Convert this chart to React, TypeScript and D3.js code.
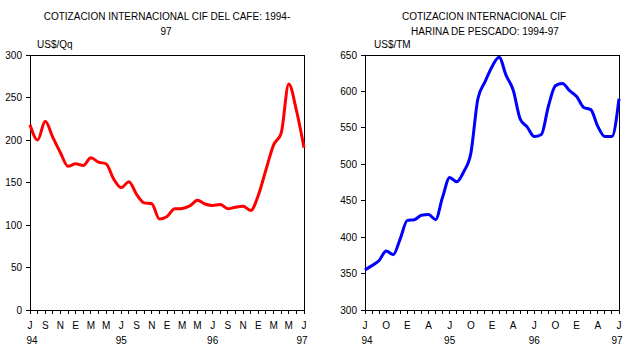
import React from "react";
import * as d3 from "d3";

// Months from Jul-94 to Jul-97 (index 0..36)
const cafeValues = [218, 200, 222, 203, 185, 169, 172, 170, 179, 174, 172, 154, 144, 151, 136, 126, 125, 107, 110, 119, 119.5, 122.5, 129, 124.7, 123, 124, 119, 121, 122, 117, 135, 165, 194, 208, 266, 235, 191];
const harinaValues = [355, 361, 368, 381, 376, 398, 423, 424, 430, 431, 424, 455, 482, 476, 490, 515, 590, 613, 634, 647, 622, 602, 562, 551, 538, 541, 580, 608, 611, 601, 593, 578, 575, 552, 538, 538, 590];

const cafeMonthLabels = ["J", "S", "N", "E", "M", "M", "J", "S", "N", "E", "M", "M", "J", "S", "N", "E", "M", "M", "J"];
const harinaMonthLabels = ["J", "O", "E", "A", "J", "O", "E", "A", "J", "O", "E", "A", "J"];
const yearLabels = ["94", "95", "96", "97"];
const cafeYTicks = [0, 50, 100, 150, 200, 250, 300];
const harinaYTicks = [300, 350, 400, 450, 500, 550, 600, 650];

const FONT = "'Liberation Sans', Arial, sans-serif";

type PanelProps = {
  x0: number; x1: number; y0: number; y1: number;
  values: number[]; domain: [number, number]; yTicks: number[];
  monthLabels: string[]; step: number; color: string;
  titles: { text: string; x: number; y: number }[];
  unit: string; unitX: number;
};

function Panel(p: PanelProps) {
  const n = p.values.length - 1;
  const x = d3.scaleLinear().domain([0, n]).range([p.x0, p.x1]);
  const y = d3.scaleLinear().domain(p.domain).range([p.y1, p.y0]);
  const line = d3.line<number>().x((_, i) => x(i)).y((d) => y(d)).curve(d3.curveMonotoneX);
  const months = d3.range(0, n + 1);
  return (
    <g fontFamily={FONT} fill="#000">
      {p.titles.map((t, i) => (
        <text key={i} x={t.x} y={t.y} fontSize={10} textAnchor="middle">{t.text}</text>
      ))}
      <text x={p.unitX} y={p.y0 - 7} fontSize={10}>{p.unit}</text>
      <rect x={p.x0} y={p.y0} width={p.x1 - p.x0} height={p.y1 - p.y0} fill="none" stroke="#000" strokeWidth={1} shapeRendering="crispEdges" />
      {p.yTicks.map((t) => (
        <g key={t}>
          <line x1={p.x0 - 4} x2={p.x0} y1={y(t)} y2={y(t)} stroke="#000" shapeRendering="crispEdges" />
          <text x={p.x0 - 8} y={y(t) + 3.5} fontSize={10} textAnchor="end">{t}</text>
        </g>
      ))}
      {months.map((m) => (
        <line key={m} x1={x(m)} x2={x(m)} y1={p.y1} y2={p.y1 + 4} stroke="#000" shapeRendering="crispEdges" />
      ))}
      {p.monthLabels.map((l, i) => (
        <text key={i} x={x(i * p.step)} y={p.y1 + 19} fontSize={10} textAnchor="middle">{l}</text>
      ))}
      {yearLabels.map((l, i) => (
        <text key={i} x={x(i * 12) + (i === 0 ? 2 : i === 3 ? -2 : 0)} y={p.y1 + 34} fontSize={10} textAnchor="middle">{l}</text>
      ))}
      <path d={line(p.values) || ""} fill="none" stroke={p.color} strokeWidth={3} strokeLinejoin="round" />
    </g>
  );
}

export default function App() {
  return (
    <svg width={639} height={354} style={{ position: "absolute", left: 0, top: 0, background: "#fff" }}>
      <Panel x0={30} x1={304} y0={55} y1={310} values={cafeValues} domain={[0, 300]} yTicks={cafeYTicks}
        monthLabels={cafeMonthLabels} step={2} color="#ff0000"
        titles={[{ text: "COTIZACION INTERNACIONAL CIF DEL CAFE: 1994-", x: 167, y: 20 }, { text: "97", x: 166, y: 35 }]}
        unit="US$/Qq" unitX={37} />
      <Panel x0={365} x1={619} y0={55} y1={310} values={harinaValues} domain={[300, 650]} yTicks={harinaYTicks}
        monthLabels={harinaMonthLabels} step={3} color="#0000ff"
        titles={[{ text: "COTIZACION INTERNACIONAL CIF", x: 484, y: 20 }, { text: "HARINA DE PESCADO: 1994-97", x: 485, y: 35 }]}
        unit="US$/TM" unitX={374} />
    </svg>
  );
}
